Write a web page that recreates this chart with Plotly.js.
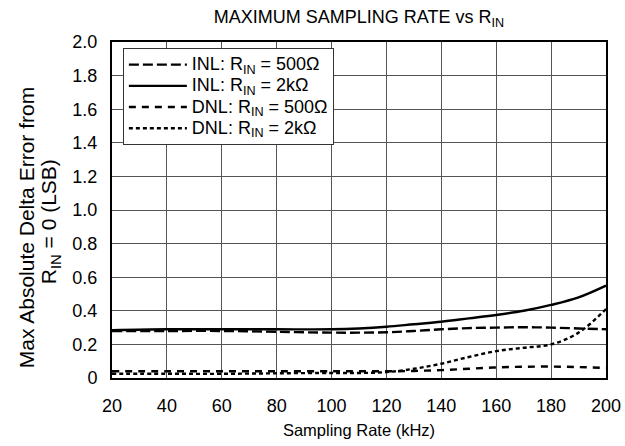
<!DOCTYPE html>
<html><head><meta charset="utf-8">
<script src="https://cdn.plot.ly/plotly-3.0.1.min.js"></script>
<style>body{margin:0;background:#fff}#c{width:625px;height:446px}</style>
</head><body><div id="c"></div>
<script>
var rate = [20, 40, 60, 80, 100, 110, 120, 130, 140, 150, 160, 170, 180, 190, 200];
var inl500 = [0.28, 0.28, 0.28, 0.275, 0.27, 0.27, 0.272, 0.28, 0.29, 0.297, 0.30, 0.302, 0.30, 0.295, 0.29];
var inl2k  = [0.285, 0.29, 0.29, 0.29, 0.29, 0.295, 0.305, 0.32, 0.335, 0.355, 0.375, 0.40, 0.435, 0.48, 0.55];
var dnl500 = [0.04, 0.04, 0.04, 0.04, 0.04, 0.04, 0.04, 0.042, 0.047, 0.055, 0.063, 0.067, 0.068, 0.065, 0.06];
var dnl2k  = [0.025, 0.025, 0.025, 0.028, 0.03, 0.03, 0.035, 0.055, 0.085, 0.125, 0.16, 0.18, 0.2, 0.27, 0.41];
var names = ['INL: R<sub>IN</sub> = 500Ω', 'INL: R<sub>IN</sub> = 2kΩ', 'DNL: R<sub>IN</sub> = 500Ω', 'DNL: R<sub>IN</sub> = 2kΩ'];
var yTicks = [0, 0.2, 0.4, 0.6, 0.8, 1.0, 1.2, 1.4, 1.6, 1.8, 2.0];
var yTickText = ['0', '0.2', '0.4', '0.6', '0.8', '1.0', '1.2', '1.4', '1.6', '1.8', '2.0'];
var xTicks = [20, 40, 60, 80, 100, 120, 140, 160, 180, 200];

var series = [inl500, inl2k, dnl500, dnl2k];
var dashes = ['10px,4px', 'solid', '7px,6px', '4px,3px'];
var traces = series.map(function(s, i){
  return {x: rate, y: s, name: '<span style="font-size:18px">' + names[i] + '</span>', mode: 'lines', type: 'scatter',
    line: {color: '#000', width: 2.4, dash: dashes[i], shape: 'spline'}};
});
var fam = 'Liberation Sans, Arial, sans-serif';
var nb = '\u00a0';
var yTitle = '<span style="font-size:21px">Max Absolute Delta Error from' + nb.repeat(6) + '</span><br>' +
             '<span style="font-size:21px">R<sub>IN</sub> = 0 (LSB)' + nb.repeat(4) + '</span>';
var layout = {
  width: 625, height: 446,
  margin: {l: 112, r: 19, t: 42, b: 68},
  paper_bgcolor: '#fff', plot_bgcolor: '#fff',
  font: {family: fam, color: '#000', size: 18},
  title: {text: 'MAXIMUM SAMPLING RATE vs R<sub>IN</sub>', font: {family: fam, size: 18, color: '#000'},
          xref: 'paper', x: 0.5, xanchor: 'center', yref: 'container', y: 0.962, yanchor: 'middle'},
  xaxis: {range: [20, 200], tickvals: xTicks, showgrid: true, gridcolor: '#555', gridwidth: 1,
          showline: true, linecolor: '#000', linewidth: 2, mirror: true, zeroline: false,
          ticks: 'outside', ticklen: 10, tickcolor: 'rgba(0,0,0,0)',
          tickfont: {size: 18},
          title: {text: 'Sampling Rate (kHz)', font: {size: 16.5}, standoff: 10}},
  yaxis: {range: [0, 2.0], tickvals: yTicks, ticktext: yTickText, showgrid: true, gridcolor: '#555', gridwidth: 1,
          showline: true, linecolor: '#000', linewidth: 2, mirror: true, zeroline: false,
          ticks: 'outside', ticklen: 9, tickcolor: 'rgba(0,0,0,0)',
          tickfont: {size: 18},
          title: {text: yTitle, font: {size: 17}, standoff: 11}},
  legend: {x: 0.022, y: 0.982, xanchor: 'left', yanchor: 'top', bgcolor: '#fff', bordercolor: '#333', borderwidth: 1,
           font: {size: 14}, tracegroupgap: 0, itemwidth: 58},
  showlegend: true
};
Plotly.newPlot('c', traces, layout, {displayModeBar: false, staticPlot: true});
</script></body></html>
